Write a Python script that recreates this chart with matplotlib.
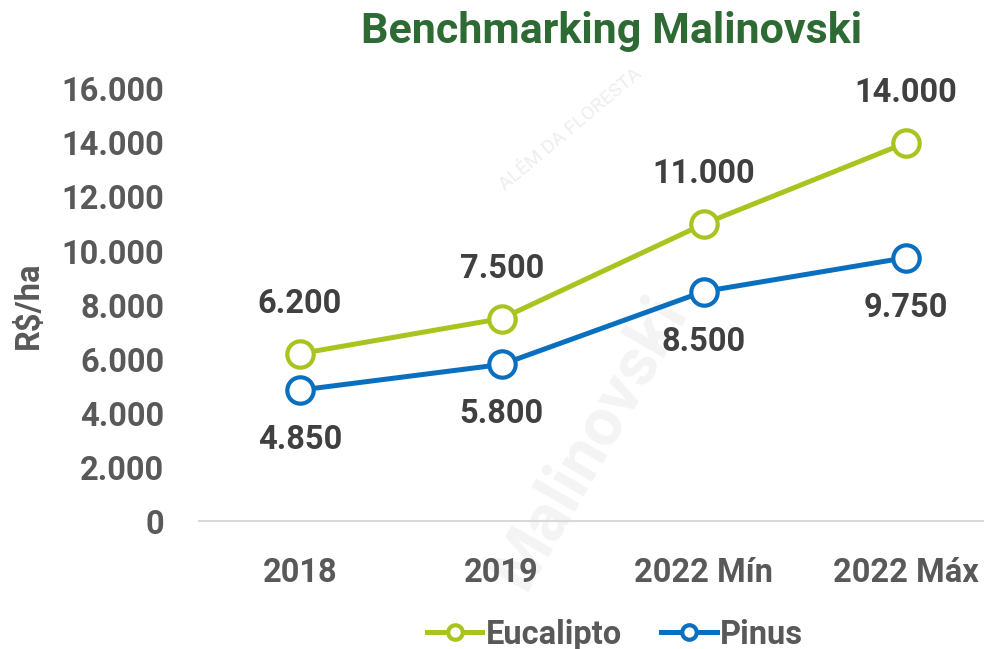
import numpy as np
import matplotlib.pyplot as plt
from matplotlib.ticker import FuncFormatter

plt.rcParams['font.family'] = ['Roboto', 'DejaVu Sans']

categorias = ['2018', '2019', '2022 Mín', '2022 Máx']
eucalipto = [6200, 7500, 11000, 14000]
pinus = [4850, 5800, 8500, 9750]

cor_euc = '#a9c41f'
cor_pin = '#0a6fbf'
cinza = '#595959'
escuro = '#404040'
fs = 23.5

def fmt_milhar(v, pos=None):
    return f'{int(v):,}'.replace(',', '.')

fig = plt.figure(figsize=(9.84, 6.49), dpi=100)
ax = fig.add_axes([0.202, 0.197, 0.821, 0.666])
ax.patch.set_alpha(0)

# marca d'agua (bem clara, atras de tudo)
fig.text(0.6, 0.32, 'Malinovski', fontsize=48, fontweight='bold', rotation=60,
         color='#f4f4f4', ha='center', va='center', zorder=-1)
fig.text(0.58, 0.8, 'ALÉM DA FLORESTA', fontsize=14, rotation=40,
         color='#eeeeee', ha='center', va='center', zorder=-1)

x = np.arange(len(categorias))
ax.plot(x, eucalipto, color=cor_euc, lw=3.6, marker='o', ms=19,
        mfc='white', mec=cor_euc, mew=3, label='Eucalipto', zorder=3)
ax.plot(x, pinus, color=cor_pin, lw=3.6, marker='o', ms=19,
        mfc='white', mec=cor_pin, mew=3, label='Pinus', zorder=3)

for i in x:
    ax.annotate(fmt_milhar(eucalipto[i]), (i, eucalipto[i]), xytext=(0, 36),
                textcoords='offset points', ha='center', va='center',
                fontsize=fs, fontweight='bold', color=escuro)
    ax.annotate(fmt_milhar(pinus[i]), (i, pinus[i]), xytext=(0, -36),
                textcoords='offset points', ha='center', va='center',
                fontsize=fs, fontweight='bold', color=escuro)

ax.set_xlim(-0.5, 3.5)
ax.set_ylim(0, 16000)
ax.set_yticks(np.arange(0, 16001, 2000))
ax.yaxis.set_major_formatter(FuncFormatter(fmt_milhar))
ax.set_xticks(x)
ax.set_xticklabels(categorias)
ax.tick_params(length=0, labelsize=fs, labelcolor=cinza)
ax.tick_params(axis='x', pad=26)
ax.tick_params(axis='y', pad=25)
for lab in ax.get_xticklabels() + ax.get_yticklabels():
    lab.set_fontweight('bold')

for s in ['top', 'right', 'left']:
    ax.spines[s].set_visible(False)
ax.spines['bottom'].set_color('#d9d9d9')
ax.spines['bottom'].set_linewidth(1.5)

ax.set_ylabel('R$/ha', fontsize=fs, fontweight='bold', color=cinza)
ax.yaxis.set_label_coords(-0.19, 0.5)

fig.text(0.621, 0.951, 'Benchmarking Malinovski', fontsize=31, fontweight='bold',
         color='#2d6a34', ha='center', va='center')

leg = fig.legend(loc='center', bbox_to_anchor=(0.625, 0.022), ncol=2, frameon=False,
                 fontsize=fs, handlelength=1.7, handletextpad=0.1, columnspacing=1.2,
                 markerscale=0.55)
for t in leg.get_texts():
    t.set_fontweight('bold')
    t.set_color(cinza)

fig.savefig('out.png', dpi=100)
